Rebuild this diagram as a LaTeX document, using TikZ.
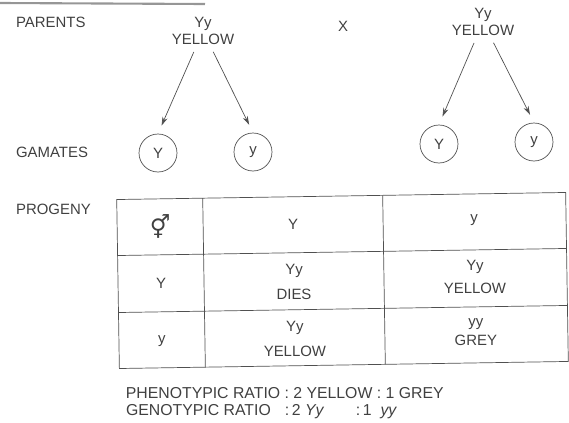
\documentclass[tikz,border=0pt]{standalone}
\usepackage{fontspec}
\usepackage{calc}
\setmainfont{Liberation Sans}
\newfontfamily\symfont{DejaVu Sans}
\usetikzlibrary{arrows.meta}
\definecolor{ink}{HTML}{404040}
\definecolor{rule}{HTML}{505050}
\begin{document}
\begin{tikzpicture}[x=0.02cm,y=-0.02cm,
	every node/.style={text=ink,font=\fontsize{8.5}{10}\selectfont,inner sep=1pt},
	gam/.style={draw=rule,circle,minimum size=0.76cm,inner sep=0pt},
	ratio/.style={anchor=west,font=\fontsize{9}{10}\selectfont},
	arr/.style={draw=rule,thin,-{Stealth[length=5pt,width=3pt]},shorten <=3pt,shorten >=5pt}]
	\useasboundingbox (0,0) rectangle (569,423);
	\draw[rule!60,line width=1.2pt] (0,3) -- (205,4);
	% parents
	\node[anchor=west] (lparents) at (14,22) {PARENTS};
	\node[align=center] (pA) at (203,31) {Yy\\YELLOW};
	\node (cross) at (343,26) {X};
	\node[align=center] (pB) at (483,22) {Yy\\YELLOW};
	% gametes
	\node[anchor=west] (lgametes) at (14,152) {GAMATES};
	\node[gam] (gA) at (158,153) {Y};
	\node[gam] (gB) at (253,152) {y};
	\node[gam] (gC) at (439,144) {Y};
	\node[gam] (gD) at (534,142) {y};
	\draw[arr] (pA) -- (gA.north);
	\draw[arr] (pA) -- (gB.north);
	\draw[arr] (pB) -- (gC.north);
	\draw[arr] (pB) -- (gD.north);
	% progeny table
	\node[anchor=west] (lprogeny) at (14,209) {PROGENY};
	\begin{scope}[rotate around={0.9:(342,280)}]
	\draw[rule] (118,196) rectangle (567,365);
	\draw[rule] (204,196) -- (204,365) (384,196) -- (384,365)
		(118,252) -- (567,252) (118,309) -- (567,309);
	\node (sex) at (161,224) {\symfont\fontsize{13}{13}\selectfont ⚥};
	\node (mY) at (294,224) {Y};
	\node (my) at (475,222) {y};
	\node (fY) at (161,281) {Y};
	\node[align=center] (YY) at (294,281) {Yy\\[4pt]DIES};
	\node[align=center] (Yy) at (475,279) {Yy\\[3pt]YELLOW};
	\node (fy) at (161,338) {y};
	\node[align=center] (yY) at (294,338) {Yy\\[4pt]YELLOW};
	\node[align=center] (yy) at (475,334) {yy\\[1pt]GREY};
	% ratios
	\node[ratio] (pheno) at (122,390) {PHENOTYPIC RATIO : 2 YELLOW : 1 GREY};
	\node[ratio] (geno) at (122,408) {\makebox[\widthof{PHENOTYPIC RATIO }][l]{GENOTYPIC RATIO}:\,2 \textit{Yy}\hspace{18pt}:\,1 \ \textit{yy}};
	\end{scope}
\end{tikzpicture}
\end{document}
